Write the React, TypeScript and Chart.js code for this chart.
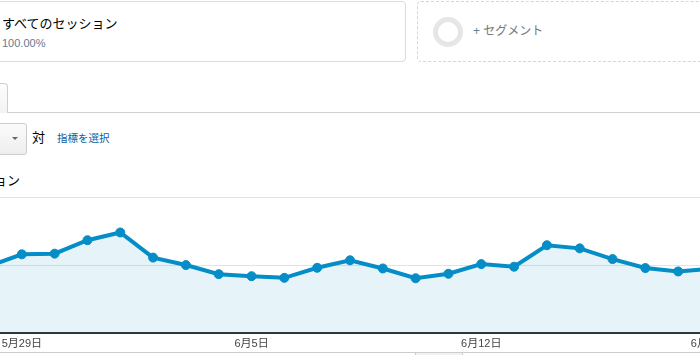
import React, { useEffect, useRef } from "react";
import { Chart, registerables } from "chart.js";

Chart.register(...registerables);

const dates = [
  "5月28日", "5月29日", "5月30日", "5月31日", "6月1日", "6月2日", "6月3日", "6月4日",
  "6月5日", "6月6日", "6月7日", "6月8日", "6月9日", "6月10日", "6月11日", "6月12日",
  "6月13日", "6月14日", "6月15日", "6月16日", "6月17日", "6月18日", "6月19日",
];
const sessions = [
  494, 580, 585, 684, 741, 556, 501, 434,
  419, 407, 481, 536, 476, 404, 437, 508,
  489, 647, 624, 545, 479, 454, 473,
];
const shownLabels = ["5月29日", "6月5日", "6月12日", "6月19日"];
const yTicks = [0, 500, 1000];

const FONT = '"Liberation Sans", Arial, "Noto Sans CJK JP", sans-serif';

export default function App() {
  const ref = useRef<HTMLCanvasElement>(null);

  useEffect(() => {
    if (!ref.current) return;
    const chart = new Chart(ref.current, {
      type: "line",
      data: {
        labels: dates,
        datasets: [
          {
            label: "セッション",
            data: sessions,
            borderColor: "#058dc7",
            backgroundColor: "rgba(5,141,199,0.1)",
            fill: true,
            borderWidth: 4,
            pointRadius: 4.5,
            pointBorderWidth: 1,
            pointBackgroundColor: "#058dc7",
            pointBorderColor: "#058dc7",
            tension: 0,
          },
        ],
      },
      options: {
        responsive: false,
        animation: false,
        layout: { padding: { left: 39, right: 39, top: 7.3, bottom: 0.7 } },
        plugins: { legend: { display: false }, tooltip: { enabled: false } },
        scales: {
          x: {
            offset: false,
            grid: { display: false, drawTicks: false },
            border: { display: true, color: "#333333", width: 2 },
            ticks: {
              autoSkip: false,
              maxRotation: 0,
              padding: 4,
              color: "#444444",
              font: { family: FONT, size: 11 },
              callback: (_v: any, i: number) => (shownLabels.includes(dates[i]) ? dates[i] : ""),
            },
          },
          y: {
            min: yTicks[0],
            max: yTicks[yTicks.length - 1],
            afterBuildTicks: (s: any) => {
              s.ticks = yTicks.map((v) => ({ value: v }));
            },
            border: { display: false },
            grid: { drawTicks: false, color: "#e3e3e3", lineWidth: 1 },
            ticks: { display: false },
          },
        },
      },
    });
    return () => chart.destroy();
  }, []);

  const abs = (s: React.CSSProperties): React.CSSProperties => ({ position: "absolute", ...s });

  return (
    <div
      style={{
        position: "fixed",
        left: 0,
        top: 0,
        width: 700,
        height: 355,
        overflow: "hidden",
        background: "#fff",
        fontFamily: FONT,
        color: "#000",
      }}
    >
      {/* segment box 1 */}
      <div
        style={abs({
          left: -20,
          top: 1,
          width: 426,
          height: 61,
          boxSizing: "border-box",
          border: "1px solid #dcdcdc",
          borderRadius: 4,
        })}
      />
      <div style={abs({ left: 2, top: 16, fontSize: 13, lineHeight: "16px", whiteSpace: "nowrap" })}>
        すべてのセッション
      </div>
      <div style={abs({ left: 2, top: 37, fontSize: 11, lineHeight: "13px", color: "#687890" })}>100.00%</div>

      {/* segment box 2 */}
      <div
        style={abs({
          left: 417,
          top: 1,
          width: 320,
          height: 61,
          boxSizing: "border-box",
          border: "1px dashed #d6d6d6",
          borderRadius: 4,
        })}
      />
      <div
        style={abs({
          left: 433,
          top: 17,
          width: 30,
          height: 30,
          boxSizing: "border-box",
          border: "5px solid #e6e6e6",
          borderRadius: "50%",
        })}
      />
      <div style={abs({ left: 473, top: 24, fontSize: 12, lineHeight: "14px", color: "#777", whiteSpace: "nowrap" })}>
        <span style={{ color: "#6a7f99" }}>+</span> セグメント
      </div>

      {/* tab */}
      <div
        style={abs({
          left: -60,
          top: 83,
          width: 68,
          height: 30,
          boxSizing: "border-box",
          border: "1px solid #cfcfcf",
          borderBottom: "none",
          borderTopRightRadius: 4,
          background: "linear-gradient(#fdfdfd, #f3f3f3)",
        })}
      />
      <div style={abs({ left: 7, top: 112, width: 700, height: 1, background: "#cfcfcf" })} />

      {/* dropdown */}
      <div
        style={abs({
          left: -40,
          top: 123,
          width: 66.5,
          height: 31.5,
          boxSizing: "border-box",
          border: "1px solid #cccccc",
          borderRadius: 3,
          background: "linear-gradient(#fbfbfb, #eeeeee)",
        })}
      />
      <div
        style={abs({
          left: 12,
          top: 137,
          width: 0,
          height: 0,
          borderLeft: "3px solid transparent",
          borderRight: "3px solid transparent",
          borderTop: "3px solid #666",
        })}
      />
      <div style={abs({ left: 32, top: 130.5, fontSize: 13, lineHeight: "14px" })}>対</div>
      <div style={abs({ left: 57, top: 131.5, fontSize: 10.5, lineHeight: "13px", color: "#0e5c9e", whiteSpace: "nowrap" })}>
        指標を選択
      </div>

      {/* metric label (cut off) */}
      <div style={abs({ right: 680, top: 174, fontSize: 13, lineHeight: "14px", whiteSpace: "nowrap" })}>セッション</div>

      {/* chart */}
      <div style={abs({ left: -50, top: 190, width: 800, height: 165 })}>
        <canvas ref={ref} width={800} height={165} style={{ display: "block" }} />
      </div>

      {/* bottom strip */}
      <div style={abs({ left: 0, top: 352, width: 700, height: 1, background: "#cccccc" })} />
      <div
        style={abs({
          left: 415,
          top: 352,
          width: 48,
          height: 10,
          boxSizing: "border-box",
          border: "1px solid #cccccc",
          background: "#f1f1f1",
        })}
      />
    </div>
  );
}
